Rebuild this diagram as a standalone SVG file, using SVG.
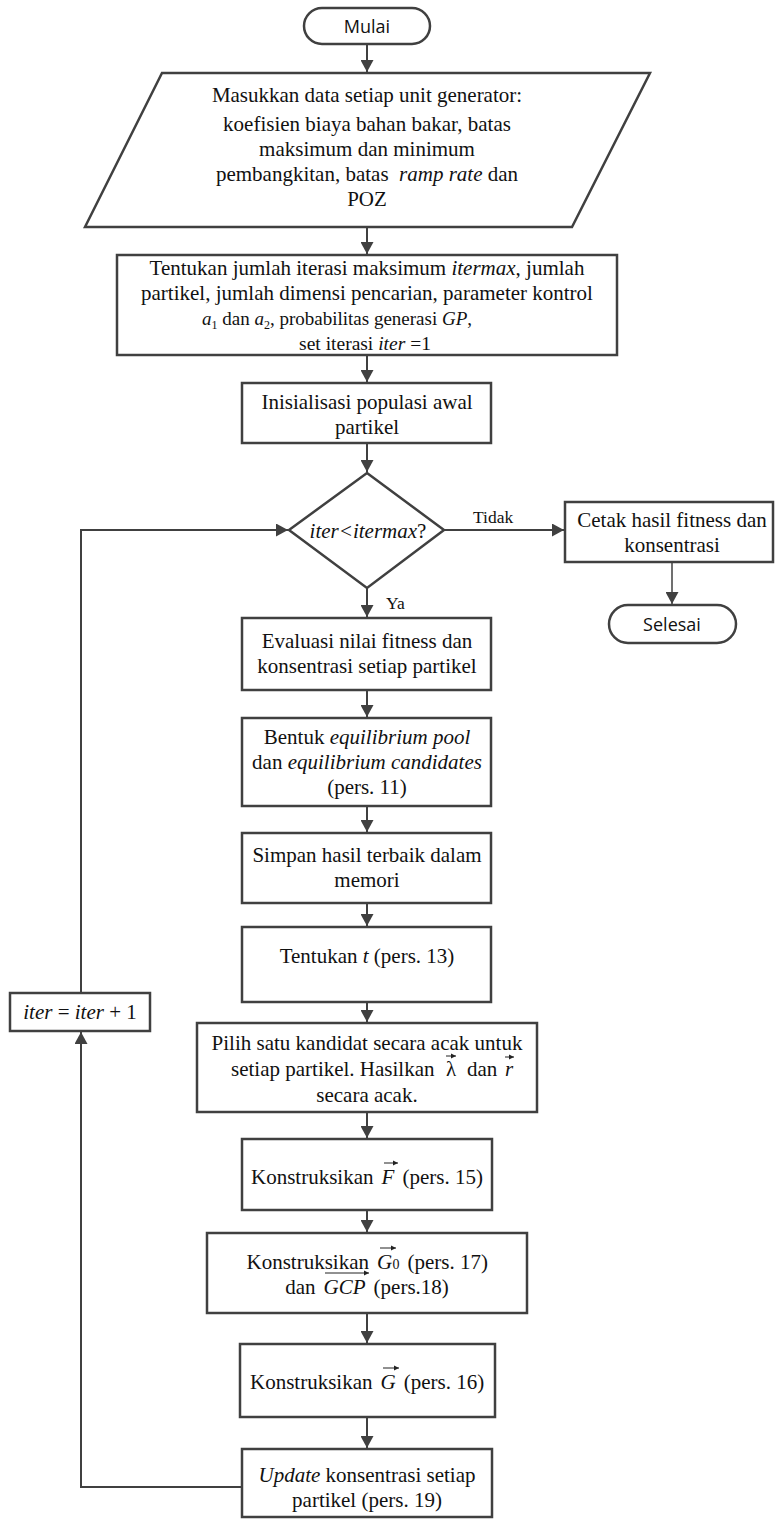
<svg xmlns="http://www.w3.org/2000/svg" width="775" height="1521" viewBox="0 0 775 1521">
<style>
.box{fill:#fff;stroke:#404040;stroke-width:2.5}
.t{font-family:"Liberation Serif","Times New Roman",serif;font-size:21px;fill:#111;text-anchor:middle}
.ts{font-family:"Liberation Serif","Times New Roman",serif;font-size:21px;fill:#111}
.lb{font-family:"Liberation Serif","Times New Roman",serif;font-size:17.5px;fill:#111}
.s{font-family:"Open Sans","Liberation Sans",sans-serif;font-size:18px;fill:#111;text-anchor:middle}
.i{font-style:italic}
.c{stroke:#404040;stroke-width:2;fill:none}
.v{stroke:#222;stroke-width:1;fill:none}
</style>
<defs>
<marker id="ah" markerWidth="13" markerHeight="13" refX="12" refY="6.5" orient="auto" markerUnits="userSpaceOnUse"><path d="M0,0 L12,6.5 L0,13 z" fill="#404040"/></marker>
<marker id="va" markerWidth="6" markerHeight="6" refX="5" refY="3" orient="auto" markerUnits="userSpaceOnUse"><path d="M0,0.5 L5,3 L0,5.5 z" fill="#222"/></marker>
</defs>

<g id="connectors">
<path class="c" d="M367,44 V72" marker-end="url(#ah)"/>
<path class="c" d="M367,227 V254" marker-end="url(#ah)"/>
<path class="c" d="M367,355 V382" marker-end="url(#ah)"/>
<path class="c" d="M367,443 V472" marker-end="url(#ah)"/>
<path class="c" d="M367,588 V617" marker-end="url(#ah)"/>
<path class="c" d="M443,530 H564" marker-end="url(#ah)"/>
<path class="c" d="M672,562 V604" style="stroke-width:1.5" marker-end="url(#ah)"/>
<path class="c" d="M367,690 V717" marker-end="url(#ah)"/>
<path class="c" d="M367,806 V832" marker-end="url(#ah)"/>
<path class="c" d="M367,903 V926" marker-end="url(#ah)"/>
<path class="c" d="M367,1002 V1022" marker-end="url(#ah)"/>
<path class="c" d="M367,1112 V1138" marker-end="url(#ah)"/>
<path class="c" d="M367,1210 V1232" marker-end="url(#ah)"/>
<path class="c" d="M367,1313 V1343" marker-end="url(#ah)"/>
<path class="c" d="M367,1417 V1448" marker-end="url(#ah)"/>
<path class="c" d="M242,1487 H81 V1032" marker-end="url(#ah)"/>
<path class="c" d="M81,993 V530 H288" marker-end="url(#ah)"/>
<text class="lb" x="473" y="523">Tidak</text>
<text class="lb" x="386" y="609">Ya</text>
</g>

<g id="mulai">
<rect class="box" x="304" y="8" width="126" height="36" rx="18"/>
<text class="s" x="367" y="33">Mulai</text>
</g>

<g id="input">
<polygon class="box" points="162,73 650,73 572,227 85,227"/>
<text class="t" x="367" y="102">Masukkan data setiap unit generator:</text>
<text class="t" x="367" y="131">koefisien biaya bahan bakar, batas</text>
<text class="t" x="367" y="156">maksimum dan minimum</text>
<text class="t" x="367" y="181" xml:space="preserve">pembangkitan, batas  <tspan class="i">ramp rate</tspan> dan</text>
<text class="t" x="367" y="206">POZ</text>
</g>

<g id="param">
<rect class="box" x="117" y="255" width="500" height="100"/>
<text class="t" x="367" y="275">Tentukan jumlah iterasi maksimum <tspan class="i">itermax</tspan>, jumlah</text>
<text class="t" x="367" y="300">partikel, jumlah dimensi pencarian, parameter kontrol</text>
<text class="ts" x="202" y="325" style="font-size:19px" xml:space="preserve"><tspan class="i">a</tspan><tspan font-size="12" dy="4">1</tspan><tspan dy="-4"> dan </tspan><tspan class="i">a</tspan><tspan font-size="12" dy="4">2</tspan><tspan dy="-4">, probabilitas generasi </tspan><tspan class="i">GP</tspan>,</text>
<text class="t" x="365" y="350" style="font-size:19.5px">set iterasi <tspan class="i">iter</tspan> =1</text>
</g>

<g id="init">
<rect class="box" x="242" y="383" width="249" height="60"/>
<text class="t" x="367" y="409">Inisialisasi populasi awal</text>
<text class="t" x="367" y="434">partikel</text>
</g>

<g id="decision">
<polygon class="box" points="367,473 444,530 367,588 289,530"/>
<text class="t" x="368" y="538"><tspan class="i">iter&lt;itermax</tspan>?</text>
</g>

<g id="cetak">
<rect class="box" x="565" y="502" width="208" height="60"/>
<text class="t" x="672" y="527">Cetak hasil fitness dan</text>
<text class="t" x="672" y="552">konsentrasi</text>
</g>

<g id="selesai">
<rect class="box" x="609" y="605" width="127" height="38" rx="19"/>
<text class="s" x="672" y="631">Selesai</text>
</g>

<g id="evaluasi">
<rect class="box" x="242" y="618" width="249" height="72"/>
<text class="t" x="367" y="648">Evaluasi nilai fitness dan</text>
<text class="t" x="367" y="673">konsentrasi setiap partikel</text>
</g>

<g id="bentuk">
<rect class="box" x="242" y="718" width="249" height="88"/>
<text class="t" x="367" y="744">Bentuk <tspan class="i">equilibrium pool</tspan></text>
<text class="t" x="367" y="769">dan <tspan class="i">equilibrium candidates</tspan></text>
<text class="t" x="367" y="794">(pers. 11)</text>
</g>

<g id="simpan">
<rect class="box" x="242" y="833" width="249" height="70"/>
<text class="t" x="367" y="862">Simpan hasil terbaik dalam</text>
<text class="t" x="367" y="887">memori</text>
</g>

<g id="tentukan-t">
<rect class="box" x="242" y="927" width="249" height="75"/>
<text class="t" x="367" y="963">Tentukan <tspan class="i">t</tspan> (pers. 13)</text>
</g>

<g id="pilih">
<rect class="box" x="197" y="1023" width="340" height="89"/>
<text class="t" x="367" y="1050">Pilih satu kandidat secara acak untuk</text>
<text class="ts" y="1076"><tspan x="231">setiap partikel. Hasilkan</tspan><tspan x="446">λ</tspan><tspan x="467">dan</tspan><tspan class="i" x="505">r</tspan></text>
<path class="v" d="M446,1056 H456" marker-end="url(#va)"/>
<path class="v" d="M505,1057 H514" marker-end="url(#va)"/>
<text class="t" x="367" y="1102">secara acak.</text>
</g>

<g id="iter">
<rect class="box" x="10" y="993" width="140" height="38"/>
<text class="t" x="80" y="1019"><tspan class="i">iter</tspan> = <tspan class="i">iter</tspan> + 1</text>
</g>

<g id="konstruksi-f">
<rect class="box" x="242" y="1139" width="250" height="71"/>
<text class="ts" y="1184"><tspan x="251">Konstruksikan</tspan><tspan class="i" x="381.5">F</tspan><tspan x="402.5">(pers. 15)</tspan></text>
<path class="v" d="M384,1163 H398" marker-end="url(#va)"/>
</g>

<g id="konstruksi-g0">
<rect class="box" x="207" y="1233" width="320" height="80"/>
<text class="ts" y="1269"><tspan x="246.5">Konstruksikan</tspan><tspan class="i" x="377">G</tspan><tspan font-size="14" x="392.5">0</tspan><tspan x="407.5">(pers. 17)</tspan></text>
<path class="v" d="M380,1248 H396" marker-end="url(#va)"/>
<text class="ts" y="1294"><tspan x="285.3">dan</tspan><tspan class="i" x="323.6">GCP</tspan><tspan x="373.6">(pers.18)</tspan></text>
<path class="v" d="M325,1273 H369" marker-end="url(#va)"/>
</g>

<g id="konstruksi-g">
<rect class="box" x="240" y="1344" width="255" height="73"/>
<text class="ts" y="1389"><tspan x="250">Konstruksikan</tspan><tspan class="i" x="380.5">G</tspan><tspan x="403.7">(pers. 16)</tspan></text>
<path class="v" d="M383,1368 H399" marker-end="url(#va)"/>
</g>

<g id="update">
<rect class="box" x="242" y="1449" width="250" height="68"/>
<text class="t" x="367" y="1482"><tspan class="i">Update</tspan> konsentrasi setiap</text>
<text class="t" x="367" y="1507">partikel (pers. 19)</text>
</g>
</svg>
